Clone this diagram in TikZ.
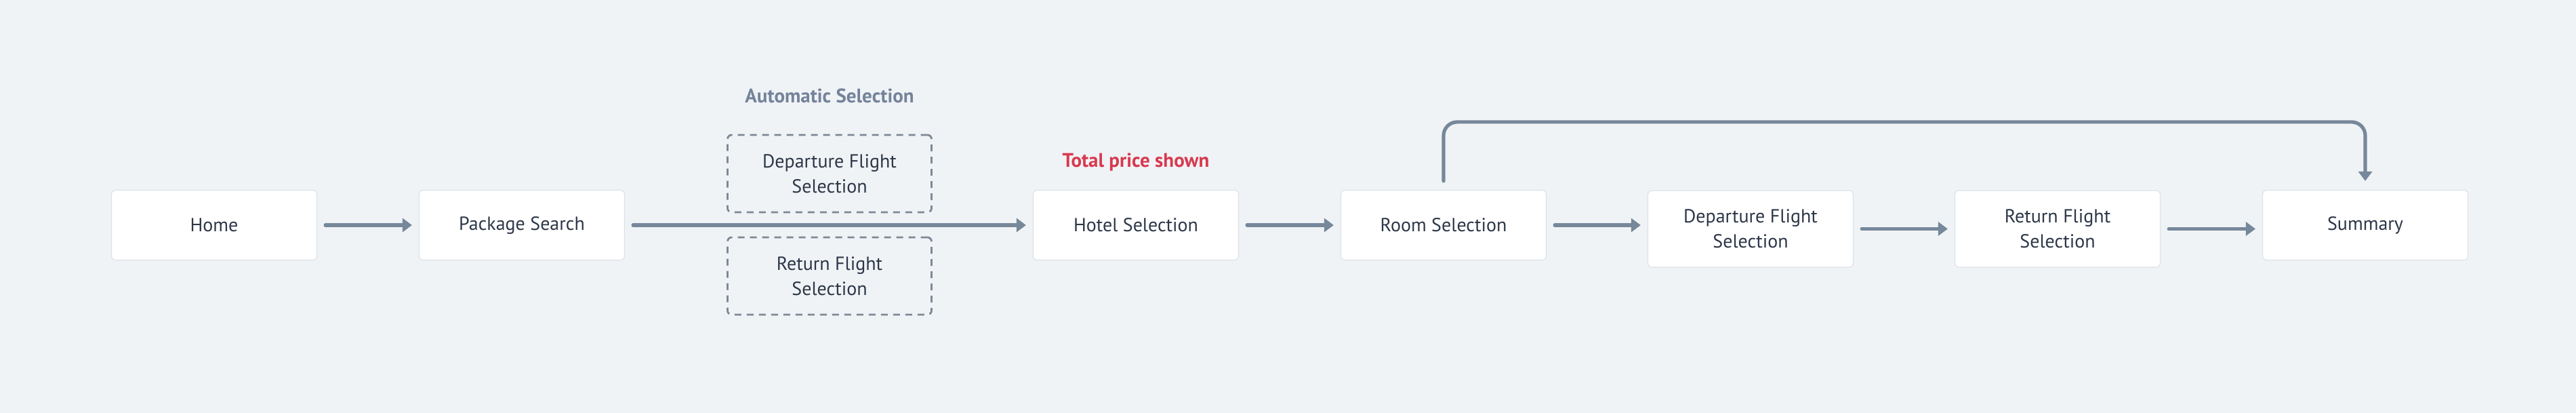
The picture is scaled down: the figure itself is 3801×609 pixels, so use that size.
\documentclass[tikz,border=0pt]{standalone}
\usepackage{fontspec}
\setmainfont{PT Sans}
\usetikzlibrary{positioning, arrows.meta}
\definecolor{bgcol}{HTML}{F0F3F6}
\definecolor{boxline}{HTML}{DDE2E8}
\definecolor{textcol}{HTML}{2D3748}
\definecolor{arrowcol}{HTML}{76889A}
\definecolor{dashcol}{HTML}{7D8896}
\definecolor{labelcol}{HTML}{74839A}
\definecolor{redcol}{HTML}{D8394F}

\begin{document}
\begin{tikzpicture}
    [
        x=0.5pt, y=-0.5pt,
        font=\fontsize{14pt}{18.5pt}\selectfont,
        page_node/.style={rectangle, rounded corners=3pt, draw=boxline, line width=0.6pt, fill=white, text=textcol, align=center, minimum width=151.5pt, minimum height=51.5pt},
        two_line/.style={page_node, minimum height=56.5pt},
        auto_node/.style={rectangle, rounded corners=3pt, draw=dashcol, line width=1.4pt, dash pattern=on 5pt off 4pt, text=textcol, align=center, minimum width=150.5pt, minimum height=57pt},
        note/.style={font=\fontsize{14.5pt}{16pt}\selectfont\bfseries},
        flow/.style={draw=arrowcol, line width=2.6pt, line cap=round, -{Triangle[length=7pt, width=10pt]}, shorten <=6pt, shorten >=5pt},
    ]

  \fill[bgcol] (0,0) rectangle (3801,609);
  \useasboundingbox (0,0) rectangle (3801,609);

  \node[page_node] (A) at (316,332) {Home};
  \node[page_node] (B) at (770,332) {Package Search};
  \node[page_node] (C) at (1676,332) {Hotel Selection};
  \node[page_node] (D) at (2130,332) {Room Selection};
  \node[two_line] (E) at (2583,337.5) {Departure Flight\\Selection};
  \node[two_line] (F) at (3036,337.5) {Return Flight\\Selection};
  \node[page_node] (G) at (3490,332) {Summary};

  \node[auto_node] (B1) at (1224,256) {Departure Flight\\Selection};
  \node[auto_node] (B2) at (1224,407) {Return Flight\\Selection};
  \node[note, text=labelcol, anchor=base] (T1) at (1224,152) {Automatic Selection};
  \node[note, text=redcol, anchor=base] (T2) at (1676,247) {Total price shown};

  \draw[flow] (A) -- (B);
  \draw[flow] (B) -- (C);
  \draw[flow] (C) -- (D);
  \draw[flow] (D.east) -- (D.east -| E.west);
  \draw[flow] (E) -- (F);
  \draw[flow] (F.east) -- (F.east -| G.west);
  \draw[flow, rounded corners=10pt, shorten <=6.5pt, shorten >=6.5pt] (D.north) -- ++(0,-100) -| (G.north);
\end{tikzpicture}
\end{document}
